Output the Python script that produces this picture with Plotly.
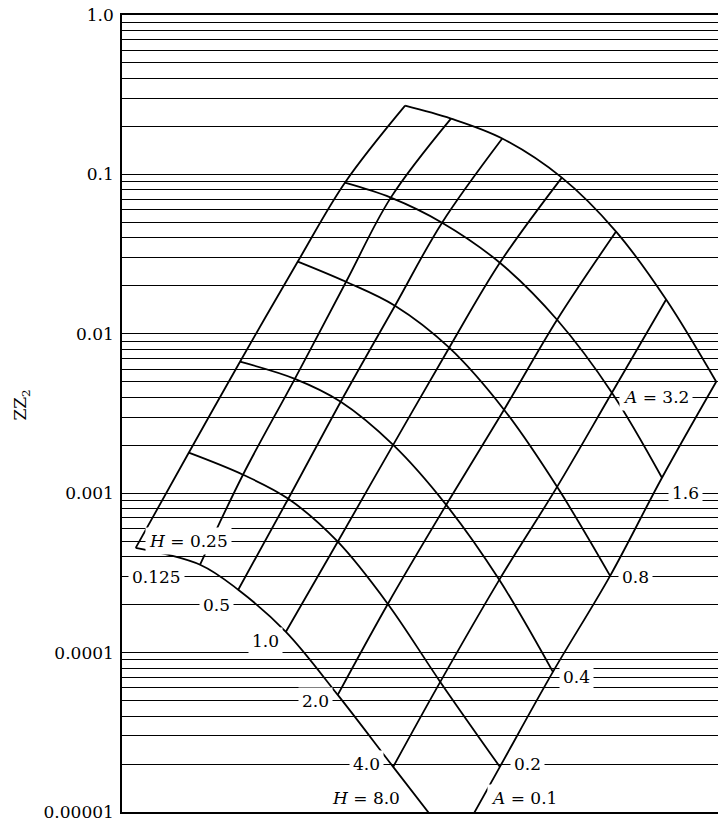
import math
import plotly.graph_objects as go

# Parameter values
H_values = [0.125, 0.25, 0.5, 1.0, 2.0, 4.0, 8.0]
A_values = [0.1, 0.2, 0.4, 0.8, 1.6, 3.2]

# Grid nodes: X position (arbitrary horizontal scale 0-100) and ZZ2 for each
# A curve (rows, A = 0.1 ... 3.2) across H lines (columns, H = 0.125 ... 8.0)
X_A01 = [2.3, 13.1, 19.5, 27.5, 36.2, 45.5, 55.9]
Z_A01 = [0.000454, 0.000356, 0.000248, 0.000135, 0.0000543, 0.0000192, 0.00000603]
X_A02 = [11.2, 20.3, 27.9, 36.2, 44.6, 53.4, 63.4]
Z_A02 = [0.001795, 0.001306, 0.000923, 0.000496, 0.000202, 0.0000655, 0.0000192]
X_A04 = [19.8, 29.0, 36.7, 45.5, 54.4, 63.3, 72.3]
Z_A04 = [0.00668, 0.00522, 0.00375, 0.00201, 0.000845, 0.000286, 0.0000757]
X_A08 = [29.5, 37.6, 45.8, 54.9, 64.1, 73.0, 81.9]
Z_A08 = [0.0284, 0.0212, 0.0150, 0.00818, 0.00334, 0.001096, 0.000303]
X_A16 = [37.4, 45.1, 53.7, 63.4, 73.0, 82.2, 90.6]
Z_A16 = [0.0887, 0.0715, 0.0498, 0.0279, 0.01225, 0.00427, 0.00125]
X_A32 = [47.5, 55.2, 63.8, 73.8, 82.9, 91.3, 99.7]
Z_A32 = [0.270, 0.224, 0.168, 0.0955, 0.0438, 0.0164, 0.00500]

X_rows = [X_A01, X_A02, X_A04, X_A08, X_A16, X_A32]
Z_rows = [Z_A01, Z_A02, Z_A04, Z_A08, Z_A16, Z_A32]

# Axis ticks
decades = [1e-5, 1e-4, 1e-3, 1e-2, 1e-1]
decade_labels = ["0.00001", "0.0001", "0.001", "0.01", "0.1"]

# Curve labels: (text, x, ZZ2)
labels_text = ["<i>H</i> = 0.25", "0.125", "0.5", "1.0", "2.0", "4.0", "<i>H</i> = 8.0",
               "<i>A</i> = 0.1", "0.2", "0.4", "0.8", "1.6", "<i>A</i> = 3.2"]
labels_x = [11.2, 5.8, 15.9, 24.1, 32.5, 41.0, 40.9, 67.4, 68.0, 76.3, 86.2, 94.5, 89.6]
labels_z = [0.0005, 0.0003, 0.0002, 0.000118, 0.00005, 0.00002, 0.0000122,
            0.0000122, 0.00002, 0.00007, 0.0003, 0.001, 0.004]

FONT = "DejaVu Serif"

fig = go.Figure()

line_style = dict(color="black", width=1.8, shape="spline", smoothing=1.0)

# A curves (arcs running down to the right)
for xs, zs, a in zip(X_rows, Z_rows, A_values):
    fig.add_trace(go.Scatter(x=xs, y=zs, mode="lines", line=line_style,
                             name=f"A = {a}", showlegend=False, hoverinfo="skip"))

# H lines (running up to the right)
for i, h in enumerate(H_values):
    xs = [row[i] for row in X_rows]
    zs = [row[i] for row in Z_rows]
    fig.add_trace(go.Scatter(x=xs, y=zs, mode="lines", line=line_style,
                             name=f"H = {h}", showlegend=False, hoverinfo="skip"))

tickvals = []
ticktext = []
for d, lab in zip(decades, decade_labels):
    for k in range(1, 10):
        tickvals.append(d * k)
        ticktext.append(lab if k == 1 else "")
tickvals.append(1.0)
ticktext.append("1.0")

for t, x, z in zip(labels_text, labels_x, labels_z):
    fig.add_annotation(x=x, y=math.log10(z), xref="x", yref="y", text=t, showarrow=False,
                       font=dict(family=FONT, size=17, color="black"),
                       bgcolor="white", borderpad=3)

# Y axis title
fig.add_annotation(x=-0.168, y=0.511, xref="paper", yref="paper", text="ZZ<sub>2</sub>",
                   xanchor="center", yanchor="middle",
                   textangle=-90, showarrow=False,
                   font=dict(family=FONT, size=17, color="black"))

fig.update_layout(
    width=718, height=822,
    margin=dict(l=122, r=0, t=15, b=10),
    paper_bgcolor="white", plot_bgcolor="white",
    font=dict(family=FONT, size=17, color="black"),
    xaxis=dict(range=[0, 100], showgrid=False, zeroline=False, showticklabels=False,
               ticks="", showline=True, mirror=True, linecolor="black", linewidth=1.5),
    yaxis=dict(type="log", range=[-5, 0], tickvals=tickvals, ticktext=ticktext,
               showgrid=True, gridcolor="black", gridwidth=1, zeroline=False,
               ticks="", showline=True, linecolor="black", linewidth=1.5,
               ticklabelstandoff=3,
               tickfont=dict(family=FONT, size=17, color="black")),
)

fig.write_html("out.html", config={"displayModeBar": False},
               post_script="document.body.style.margin='0';document.body.style.overflow='hidden';")
